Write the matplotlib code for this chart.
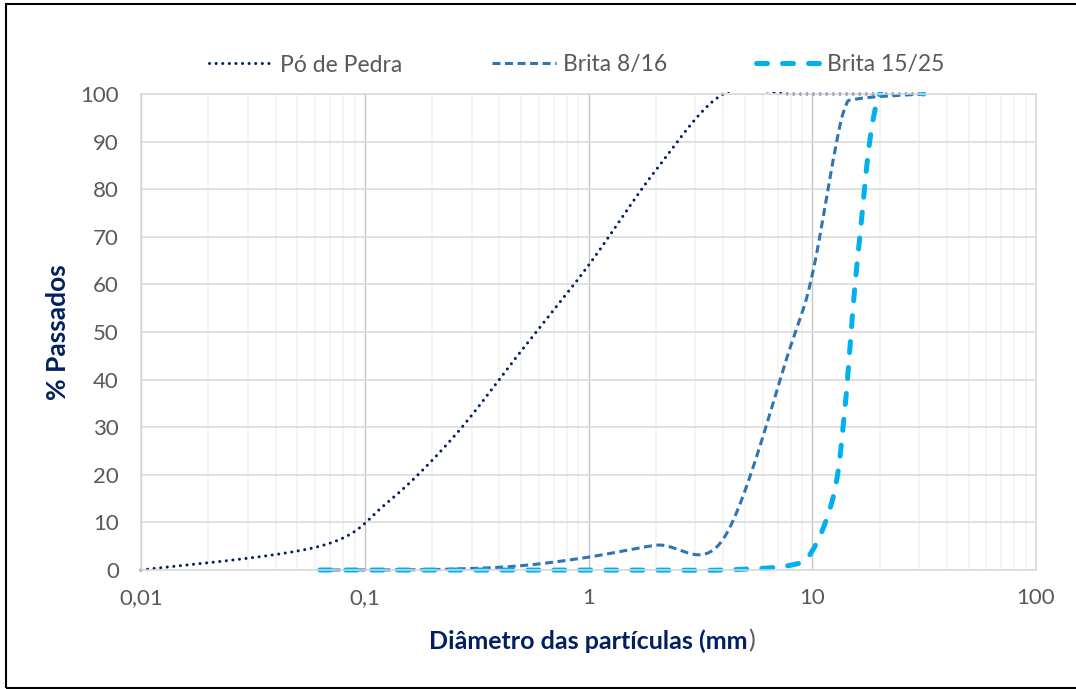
import numpy as np
import matplotlib
matplotlib.use("Agg")
import matplotlib.pyplot as plt
from matplotlib.patches import Rectangle
from matplotlib.ticker import FixedLocator, LogLocator, NullFormatter

plt.rcParams["font.family"] = ["Lato", "DejaVu Sans"]

# sieve openings (mm) and % passing for each material
po_sizes = [0.01, 0.063, 0.125, 0.25, 0.5, 1, 2, 4, 8, 16, 31.5]
po_pass = [0, 5, 14, 28, 46, 64, 84, 100, 100, 100, 100]

b816_sizes = [0.063, 0.125, 0.25, 0.5, 1, 2, 4, 8, 10, 12.5, 14, 16, 31.5]
b816_pass = [0, 0, 0.2, 0.9, 2.7, 5.2, 6.5, 47, 62, 87, 97, 99, 100]

b1525_sizes = [0.063, 0.125, 0.25, 0.5, 1, 2, 4, 8, 10, 12.5, 14, 16, 20, 31.5]
b1525_pass = [0, 0, 0, 0, 0, 0, 0, 1, 4, 16, 34, 66, 100, 100]

series_names = ["Pó de Pedra", "Brita 8/16", "Brita 15/25"]
x_ticks = [0.01, 0.1, 1, 10, 100]
x_ticklabels = ["0,01", "0,1", "1", "10", "100"]
y_ticks = list(range(0, 101, 10))

NAVY = "#002060"
GREY_TXT = "#595959"

W, H = 1076, 689
fig = plt.figure(figsize=(W / 100, H / 100), dpi=100)
ax = fig.add_axes([141 / W, 1 - 570 / H, 895 / W, 476 / H])
ax.set_xscale("log")
ax.set_xlim(0.01, 100)
ax.set_ylim(0, 100)

# pixel size of one decade / one percent, used to smooth like a spreadsheet does
bbox = ax.get_position()
sx = bbox.width * W / 4.0
sy = bbox.height * H / 100.0


def smooth(x, y, n=60):
    u = np.log10(np.asarray(x, float)) * sx
    v = np.asarray(y, float) * sy
    P = np.column_stack([u, v])
    t = np.linspace(0, 1, n)[:, None]
    out = []
    for i in range(len(P) - 1):
        p0 = P[max(i - 1, 0)]
        p1 = P[i]
        p2 = P[i + 1]
        p3 = P[min(i + 2, len(P) - 1)]
        c1 = p1 + (p2 - p0) / 6.0
        c2 = p2 - (p3 - p1) / 6.0
        seg = ((1 - t) ** 3) * p1 + 3 * ((1 - t) ** 2) * t * c1 + 3 * (1 - t) * t ** 2 * c2 + t ** 3 * p2
        out.append(seg if i == 0 else seg[1:])
    out = np.vstack(out)
    return 10 ** (out[:, 0] / sx), out[:, 1] / sy


# grid
ax.xaxis.set_major_locator(FixedLocator(x_ticks))
ax.xaxis.set_minor_locator(LogLocator(base=10, subs=np.arange(2, 10), numticks=20))
ax.xaxis.set_minor_formatter(NullFormatter())
ax.set_xticklabels(x_ticklabels)
ax.set_yticks(y_ticks)
ax.grid(True, which="minor", axis="x", color="#F0F0F0", lw=1.1)
ax.grid(True, which="major", axis="x", color="#C4C4C4", lw=1.0)
ax.grid(True, which="major", axis="y", color="#D9D9D9", lw=1.1)
ax.set_axisbelow(True)
for s in ax.spines.values():
    s.set_color("#D9D9D9")
    s.set_linewidth(1.1)
ax.tick_params(which="both", length=0)
ax.tick_params(axis="x", pad=13, labelsize=16, labelcolor=GREY_TXT)
ax.tick_params(axis="y", pad=16, labelsize=16, labelcolor=GREY_TXT)

clip = Rectangle((-0.01, -0.02), 1.02, 1.024, transform=ax.transAxes, facecolor="none", edgecolor="none")
ax.add_patch(clip)

styles = [
    dict(color=NAVY, lw=2.2, ls=(0, (0.01, 2.15)), dash_capstyle="round"),
    dict(color="#2E75B6", lw=2.2, ls=(0, (2.6, 1.5)), dash_capstyle="butt"),
    dict(color="#00B0F0", lw=3.6, ls=(0, (2.2, 3.0)), dash_capstyle="round"),
]
data = [(po_sizes, po_pass), (b816_sizes, b816_pass), (b1525_sizes, b1525_pass)]
for (xs, ys), name, st in zip(data, series_names, styles):
    cx, cy = smooth(xs, ys)
    ln, = ax.plot(cx, cy, label=name, **st)
    ln.set_clip_path(clip)

leg = ax.legend(ncol=3, loc="center", bbox_to_anchor=(0.536, 1 - 65 / H), bbox_transform=fig.transFigure,
                frameon=False, fontsize=16.5, labelcolor=GREY_TXT, handlelength=2.8,
                handletextpad=0.3, columnspacing=3.9)

ax.set_xlabel("Diâmetro das partículas (mm", fontsize=18, fontweight="bold", color=NAVY, va="center")
ax.xaxis.set_label_coords(0.5, (570 - 641) / 476)
ax.annotate(")", xy=(1, 0), xycoords=ax.xaxis.label, ha="left", va="bottom",
            fontsize=18, color=GREY_TXT)
ax.set_ylabel("% Passados", fontsize=19, fontweight="bold", color=NAVY, va="center")
ax.yaxis.set_label_coords((58 - 141) / 895, 0.5)

# outer frame
fig.add_artist(Rectangle((6 / W, 1 / H), 1.05, (H - 5) / H, transform=fig.transFigure,
                         fill=False, ec="black", lw=1.5))

fig.savefig("out.png", dpi=100)
